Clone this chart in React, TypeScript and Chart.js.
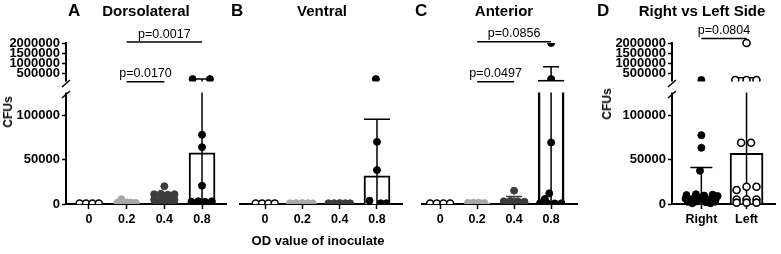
import React, { useEffect, useRef } from 'react';
import { Chart, LinearScale, registerables } from 'chart.js';

Chart.register(...registerables);

const FONT = "'Liberation Sans', Arial, Helvetica, sans-serif";
const W = 781;
const H = 254;

// ---------------- data ----------------
const odLabels = ['0', '0.2', '0.4', '0.8'];
const sideLabels = ['Right', 'Left'];
const yTickValues = [0, 50000, 100000, 500000, 1000000, 1500000, 2000000];
const yMax = 2000000;
const breakLow = 125000; // top of the lower axis segment

// A: Dorsolateral  (points: [offset from group centre, CFUs])
const dorsoMeans = [0, 2200, 9000, 57600];
const dorsoErrTop = [0, 4000, 12000, 220000];
const dorso0 = [[-0.25, 600], [-0.08, 600], [0.09, 600], [0.26, 600]];
const dorso02 = [[-0.24, 1500], [-0.12, 2200], [0, 1800], [0.12, 1500], [0.24, 1200], [-0.14, 5500]];
const dorso04 = [[0, 20000], [-0.27, 11000], [-0.09, 11500], [0.09, 10500], [0.27, 11000], [-0.27, 5000], [-0.09, 4000], [0.09, 5500], [0.27, 4500], [-0.18, 1500], [0, 1500], [0.18, 1500]];
const dorso08 = [[-0.25, 220000], [0.21, 220000], [0, 78000], [0, 64000], [0, 20600], [-0.28, 2500], [-0.1, 3000], [0.08, 2500], [0.26, 3000]];
const dorsoP = ['p=0.0017', 'p=0.0170'];

// B: Ventral
const ventMeans = [0, 900, 900, 31800];
const ventErrTop = [0, 900, 900, 95500];
const vent0 = [[-0.25, 600], [-0.08, 600], [0.09, 600], [0.26, 600]];
const vent02 = [[-0.33, 800], [-0.17, 1000], [0, 1000], [0.15, 900], [0.28, 700]];
const vent04 = [[-0.3, 800], [-0.15, 900], [0, 1000], [0.15, 900], [0.28, 800]];
const vent08 = [[-0.03, 220000], [0, 70000], [0, 38200], [-0.2, 3700], [0.1, 800], [0.25, 800]];

// C: Anterior
const antMeans = [0, 1200, 5300, 175000];
const antErrTop = [0, 1200, 8400, 830000];
const ant0 = [[-0.27, 600], [-0.09, 600], [0.09, 600], [0.27, 600]];
const ant02 = [[-0.25, 1200], [-0.1, 1500], [0.05, 1400], [0.2, 1000]];
const ant04 = [[0, 15000], [-0.28, 3000], [-0.1, 3500], [0.1, 3000], [0.28, 2500], [-0.2, 1200], [0, 1000], [0.2, 1200]];
const ant08 = [[0, 2000000], [0, 220000], [0, 69300], [-0.05, 12000], [-0.17, 5600], [-0.3, 800], [-0.1, 600], [0.1, 600], [0.28, 800]];
const antP = ['p=0.0856', 'p=0.0497'];

// D: Right vs Left side
const sideMeans = [6500, 57000];
const sideErrTop = [41200, 288000];
const rightPts = [[0, 175000], [0, 77500], [0, 63300], [-0.03, 37400],
  [-0.33, 10000], [-0.12, 11000], [0.06, 9500], [0.25, 10500], [0.36, 9000],
  [-0.35, 6000], [-0.2, 5500], [-0.02, 6500], [0.15, 5000], [0.32, 6000],
  [-0.3, 2500], [-0.1, 3000], [0.1, 2000], [0.3, 2500], [-0.2, 800], [0.2, 800]];
const leftPts = [[0, 2000000], [-0.25, 175000], [0, 175000], [0.22, 175000], [-0.12, 69000], [0.1, 69000],
  [0, 19400], [0.22, 19400], [-0.22, 15700], [-0.22, 5000], [0, 5000], [0.22, 5000],
  [-0.22, 1500], [0, 1500], [0.22, 1500]];
const sideP = ['p=0.0804'];

// ---------------- styles ----------------
const LIGHT = '#a8a8a8';
const DARK = '#3c3c3c';
const BLACK = '#000000';
const WHITE = '#ffffff';
const TOP = 43;
const BOTTOM = 204;

// broken axis geometry (fractions of the axis height)
const BRK = { lowMax: breakLow, lowFrac: (BOTTOM - 93) / (BOTTOM - TOP), upFrac: (BOTTOM - 81) / (BOTTOM - TOP) };

class BrokenScale extends LinearScale {
  static id = 'broken';
  static defaults = LinearScale.defaults;
  getPixelForValue(value: any) {
    if (value === null || value === undefined || isNaN(value)) return NaN;
    let f: number;
    if (value <= BRK.lowMax) f = ((value - this.min) / (BRK.lowMax - this.min)) * BRK.lowFrac;
    else f = BRK.upFrac + ((value - BRK.lowMax) / (this.max - BRK.lowMax)) * (1 - BRK.upFrac);
    return this.getPixelForDecimal(f);
  }
  getValueForPixel(pixel: number) {
    const f = this.getDecimalForPixel(pixel);
    if (f <= BRK.lowFrac) return this.min + (f / BRK.lowFrac) * (BRK.lowMax - this.min);
    if (f < BRK.upFrac) return BRK.lowMax;
    return BRK.lowMax + ((f - BRK.upFrac) / (1 - BRK.upFrac)) * (this.max - BRK.lowMax);
  }
}
Chart.register(BrokenScale as any);

type PanelCfg = {
  left: number; width: number; padLeft: number; padRight: number;
  yWidth: number | null; xMin: number; xMax: number;
  labels: string[]; means: number[]; tops: number[];
  groups: number[][][]; dotFill: string[]; dotLine: string[];
  barColors: string[]; barWidth: number; barBorder: number; cap: number;
  brackets: { from: number; to: number; label: string; dy: number }[];
  clip: any;
};

const odFill = [WHITE, LIGHT, DARK, BLACK];
const odLine = [BLACK, LIGHT, DARK, BLACK];
const odBars = [BLACK, LIGHT, DARK, BLACK];

const panels: PanelCfg[] = [
  {
    left: 0, width: 232, padLeft: 0, padRight: 5, yWidth: 66, xMin: -0.61, xMax: 3.66,
    labels: odLabels, means: dorsoMeans, tops: dorsoErrTop,
    groups: [dorso0, dorso02, dorso04, dorso08], dotFill: odFill, dotLine: odLine,
    barColors: odBars, barWidth: 26, barBorder: 2, cap: 20,
    brackets: [{ from: 1, to: 3, label: dorsoP[0], dy: -1 }, { from: 1, to: 2, label: dorsoP[1], dy: 38.7 }],
    clip: 0,
  },
  {
    left: 232, width: 178, padLeft: 8, padRight: 8, yWidth: null, xMin: -0.67, xMax: 3.67,
    labels: odLabels, means: ventMeans, tops: ventErrTop,
    groups: [vent0, vent02, vent04, vent08], dotFill: odFill, dotLine: odLine,
    barColors: odBars, barWidth: 26, barBorder: 2, cap: 26,
    brackets: [], clip: 0,
  },
  {
    left: 410, width: 180, padLeft: 12, padRight: 13, yWidth: null, xMin: -0.49, xMax: 3.7,
    labels: odLabels, means: antMeans, tops: antErrTop,
    groups: [ant0, ant02, ant04, ant08], dotFill: odFill, dotLine: odLine,
    barColors: odBars, barWidth: 26, barBorder: 2.5, cap: 16,
    brackets: [{ from: 1, to: 3, label: antP[0], dy: -1.3 }, { from: 1, to: 2, label: antP[1], dy: 38.7 }],
    clip: 0,
  },
  {
    left: 590, width: 191, padLeft: 0, padRight: 3, yWidth: 82, xMin: -0.65, xMax: 1.65,
    labels: sideLabels, means: sideMeans, tops: sideErrTop,
    groups: [rightPts, leftPts], dotFill: [BLACK, WHITE], dotLine: [BLACK, BLACK],
    barColors: [BLACK, BLACK], barWidth: 33, barBorder: 2, cap: 22,
    brackets: [{ from: 0, to: 1, label: sideP[0], dy: -4.6 }],
    clip: false,
  },
];

function makeConfig(cfg: PanelCfg): any {
  const datasets: any[] = [
    {
      type: 'bar',
      data: cfg.means.map((m, i) => ({ x: i, y: m })),
      backgroundColor: WHITE,
      borderColor: cfg.barColors,
      borderWidth: cfg.barBorder,
      borderSkipped: 'start',
      barThickness: cfg.barWidth,
      order: 2,
    },
  ];
  cfg.groups.forEach((pts, g) => {
    const open = cfg.dotFill[g] === WHITE;
    datasets.push({
      type: 'scatter',
      data: pts.map(([dx, v]) => ({ x: g + dx, y: v })),
      pointBackgroundColor: cfg.dotFill[g],
      backgroundColor: cfg.dotFill[g],
      pointBorderColor: cfg.dotLine[g],
      borderColor: cfg.dotLine[g],
      pointBorderWidth: open ? 1.6 : 1,
      pointRadius: 3.5,
      pointHoverRadius: 3.5,
      order: 1,
      clip: cfg.clip,
    });
  });

  const errorBars = {
    id: 'errorBars',
    afterDatasetDraw(chart: any, args: any) {
      if (args.meta.type !== 'bar') return;
      const ctx = chart.ctx;
      const xs = chart.scales.x;
      const ys = chart.scales.y;
      ctx.save();
      cfg.means.forEach((m, i) => {
        const top = cfg.tops[i];
        if (!(top > m)) return;
        const px = xs.getPixelForValue(i);
        const yT = ys.getPixelForValue(top);
        const yB = ys.getPixelForValue(Math.max(0, 2 * m - top));
        ctx.strokeStyle = cfg.barColors[i];
        ctx.lineWidth = 1.5;
        ctx.beginPath();
        ctx.moveTo(px, yB);
        ctx.lineTo(px, yT);
        ctx.moveTo(px - cfg.cap / 2, yT);
        ctx.lineTo(px + cfg.cap / 2, yT);
        ctx.stroke();
      });
      ctx.restore();
    },
  };

  const breakAndBrackets = {
    id: 'breakAndBrackets',
    afterDatasetsDraw(chart: any) {
      const ctx = chart.ctx;
      const area = chart.chartArea;
      const xs = chart.scales.x;
      const ys = chart.scales.y;
      const upPix = ys.getPixelForDecimal(BRK.upFrac);
      const lowPix = ys.getPixelForDecimal(BRK.lowFrac);
      ctx.save();
      ctx.fillStyle = WHITE;
      ctx.fillRect(area.left - 3, upPix + 0.5, area.right - area.left + 3, lowPix - upPix - 1);
      if (cfg.yWidth !== null) {
        ctx.strokeStyle = BLACK;
        ctx.lineWidth = 1.5;
        ctx.beginPath();
        for (const yc of [upPix + 2.5, lowPix + 1.5]) {
          ctx.moveTo(area.left - 4, yc + 3.5);
          ctx.lineTo(area.left + 4, yc - 3.5);
        }
        ctx.stroke();
      }
      ctx.strokeStyle = BLACK;
      ctx.fillStyle = BLACK;
      ctx.lineWidth = 1.5;
      ctx.font = `12.5px ${FONT}`;
      ctx.textAlign = 'center';
      ctx.textBaseline = 'alphabetic';
      for (const b of cfg.brackets) {
        const x1 = xs.getPixelForValue(b.from);
        const x2 = xs.getPixelForValue(b.to);
        const y = area.top + b.dy;
        ctx.beginPath();
        ctx.moveTo(x1, y);
        ctx.lineTo(x2, y);
        ctx.stroke();
        ctx.fillText(b.label, (x1 + x2) / 2, y - 4.5);
      }
      ctx.restore();
    },
  };

  const yScale: any = {
    type: 'broken',
    display: cfg.yWidth !== null,
    min: 0,
    max: yMax,
    afterBuildTicks: (s: any) => { s.ticks = yTickValues.map((v) => ({ value: v })); },
    ticks: { callback: (v: any) => String(v), autoSkip: false, color: BLACK, padding: 2, font: { size: 13, weight: 'bold', family: FONT } },
    grid: { display: true, drawOnChartArea: false, drawTicks: true, tickLength: 4, tickColor: BLACK, tickWidth: 1.5, color: BLACK },
    border: { display: true, color: BLACK, width: 2 },
  };
  if (cfg.yWidth !== null) yScale.afterFit = (s: any) => { s.width = cfg.yWidth; };

  return {
    type: 'bar',
    data: { datasets },
    options: {
      responsive: false,
      maintainAspectRatio: false,
      animation: false,
      devicePixelRatio: 1,
      events: [],
      layout: { padding: { left: cfg.padLeft, right: cfg.padRight, top: TOP, bottom: 0 } },
      plugins: { legend: { display: false }, tooltip: { enabled: false }, title: { display: false } },
      scales: {
        x: {
          type: 'linear',
          min: cfg.xMin,
          max: cfg.xMax,
          offset: false,
          afterBuildTicks: (s: any) => { s.ticks = cfg.labels.map((_, i) => ({ value: i })); },
          afterFit: (s: any) => { s.height = H - BOTTOM; },
          ticks: {
            callback: (v: any) => cfg.labels[Math.round(v)] ?? '',
            autoSkip: false, maxRotation: 0, color: BLACK, padding: 3,
            font: { size: 12.5, weight: 'bold', family: FONT },
          },
          grid: { display: true, drawOnChartArea: false, drawTicks: true, tickLength: 5, tickColor: BLACK, tickWidth: 1.5, color: BLACK, offset: false },
          border: { display: true, color: BLACK, width: 2 },
        },
        y: yScale,
      },
    },
    plugins: [errorBars, breakAndBrackets],
  };
}

function Panel({ cfg }: { cfg: PanelCfg }) {
  const ref = useRef<HTMLCanvasElement | null>(null);
  useEffect(() => {
    if (!ref.current) return;
    const chart = new Chart(ref.current, makeConfig(cfg));
    return () => chart.destroy();
  }, [cfg]);
  return (
    <canvas
      ref={ref}
      width={cfg.width}
      height={H}
      style={{ position: 'absolute', left: cfg.left, top: 0, width: cfg.width, height: H }}
    />
  );
}

function Txt(props: { x: number; y: number; size: number; children: any; anchor?: 'left' | 'center'; rotate?: boolean; weight?: number }) {
  const { x, y, size, children, anchor = 'center', rotate = false, weight = 700 } = props;
  return (
    <div
      style={{
        position: 'absolute', left: x, top: y,
        transform: `translate(${anchor === 'center' ? '-50%' : '0'}, -50%)${rotate ? ' rotate(-90deg)' : ''}`,
        fontFamily: FONT, fontSize: size, fontWeight: weight, lineHeight: 1,
        whiteSpace: 'nowrap', color: BLACK, zIndex: 2,
      }}
    >
      {children}
    </div>
  );
}

export default function App() {
  Chart.defaults.font.family = FONT;
  return (
    <div style={{ position: 'absolute', left: 0, top: 0, width: W, height: H, background: WHITE, overflow: 'hidden' }}>
      {panels.map((p, i) => <Panel key={i} cfg={p} />)}
      <Txt x={68} y={10} size={17} anchor="left">A</Txt>
      <Txt x={146} y={10} size={15}>Dorsolateral</Txt>
      <Txt x={231} y={10} size={17} anchor="left">B</Txt>
      <Txt x={322} y={10} size={15}>Ventral</Txt>
      <Txt x={415} y={10} size={17} anchor="left">C</Txt>
      <Txt x={504} y={10} size={15}>Anterior</Txt>
      <Txt x={597} y={10} size={17} anchor="left">D</Txt>
      <Txt x={702} y={10} size={15}>Right vs Left Side</Txt>
      <Txt x={8} y={112} size={12} rotate>CFUs</Txt>
      <Txt x={607} y={104} size={12} rotate>CFUs</Txt>
      <Txt x={318} y={240} size={13}>OD value of inoculate</Txt>
    </div>
  );
}
